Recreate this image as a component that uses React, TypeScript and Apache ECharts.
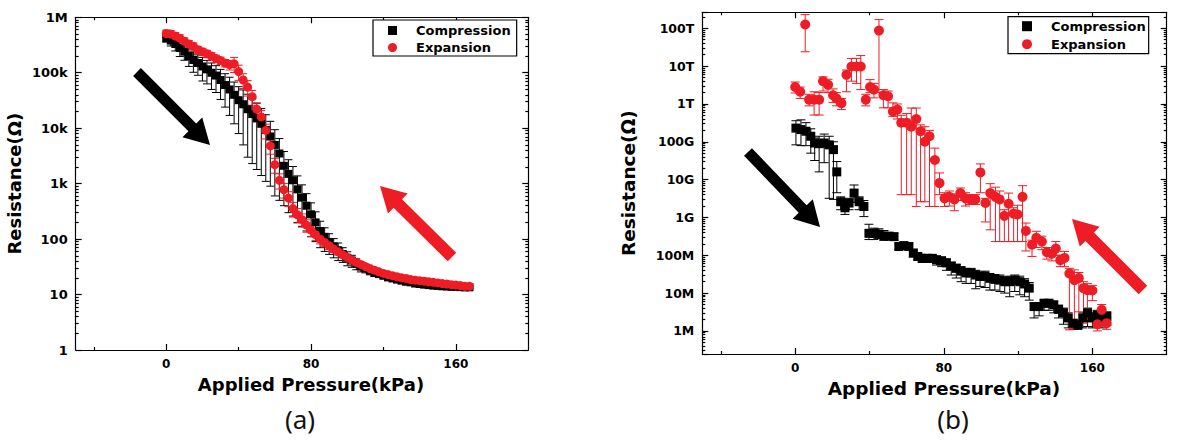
import React, { useEffect, useRef } from 'react';
import * as echarts from 'echarts';

// ---------- shared ----------
const X_TITLE = 'Applied Pressure(kPa)';
const Y_TITLE = 'Resistance(Ω)';
const X_MIN = -50;
const X_MAX = 200;
const X_MAJOR = [0, 80, 160];
const X_MINOR = [-40, 40, 120];
const RED = '#ee1c24';
const FONT = 'DejaVu Sans';

// ---------- panel (a) ----------
const pressureA = [
  0, 2.5, 5, 7.5, 10, 12.5, 15, 17.5, 20, 22.5,
  25, 27.5, 30, 32.5, 35, 37.5, 40, 42.5, 45, 47.5,
  50, 52.5, 55, 57.5, 60, 62.5, 65, 67.5, 70, 72.5,
  75, 77.5, 80, 82.5, 85, 87.5, 90, 92.5, 95, 97.5,
  100, 102.5, 105, 107.5, 110, 112.5, 115, 117.5, 120, 122.5,
  125, 127.5, 130, 132.5, 135, 137.5, 140, 142.5, 145, 147.5,
  150, 152.5, 155, 157.5, 160, 162.5, 165, 167.5,
];
const compressionA = [
  4.2e5, 3.8e5, 3.3e5, 2.8e5, 2.4e5, 2.0e5, 1.7e5, 1.5e5, 1.3e5, 1.15e5,
  1.0e5, 8.9e4, 7.4e4, 6.0e4, 5.0e4, 4.0e4, 3.2e4, 2.7e4, 2.2e4, 1.8e4,
  1.5e4, 1.2e4, 9.3e3, 7.1e3, 5.0e3, 3.5e3, 2.1e3, 1.5e3, 1150, 790,
  560, 400, 280, 200, 140, 110, 89, 74, 63, 54,
  46, 41, 36, 32, 30, 27, 25, 23.4, 21.9, 20.4,
  19.5, 18.6, 17.8, 17.0, 16.6, 15.8, 15.5, 15.1, 14.8, 14.5,
  14.3, 14.1, 14.0, 13.8, 13.8, 13.6, 13.5, 13.5,
];
const compressionErrA = [
  6.3e4, 7.6e4, 8.3e4, 8.4e4, 7.2e4, 7.0e4, 6.8e4, 6.0e4, 5.9e4, 5.2e4,
  5.0e4, 4.5e4, 4.1e4, 3.6e4, 3.3e4, 2.8e4, 2.4e4, 2.2e4, 1.9e4, 1.57e4,
  1.32e4, 1.06e4, 8.2e3, 6.2e3, 4.4e3, 3.0e3, 1.7e3, 1.2e3, 890, 590,
  390, 260, 170, 110, 70, 50, 36, 28, 22, 16,
  13, 10, 8, 6.4, 5.4, 4.3, 3.8, 3.0, 2.6, 2.0,
  1.9, 1.7, 1.5, 1.4, 1.2, 1.1, 1.0, 0.9, 0.8, 0.8,
  0.7, 0.7, 0.6, 0.6, 0.6, 0.5, 0.5, 0.5,
];
const expansionA = [
  5.1e5, 5.0e5, 4.6e5, 4.2e5, 3.7e5, 3.3e5, 3.0e5, 2.6e5, 2.4e5, 2.2e5,
  2.0e5, 1.8e5, 1.66e5, 1.5e5, 1.4e5, 1.45e5, 1.05e5, 7.4e4, 5.5e4, 3.7e4,
  2.2e4, 1.6e4, 9.1e3, 4.8e3, 2.2e3, 1150, 780, 550, 355, 275,
  224, 178, 145, 120, 100, 87, 76, 66, 59, 52,
  47, 42, 38, 35, 32, 29.5, 27.5, 25.7, 24, 22.9,
  21.9, 20.9, 20, 19.5, 18.6, 18.2, 17.8, 17.4, 17.0, 16.6,
  16.2, 15.8, 15.5, 15.1, 14.8, 14.5, 14.1, 14.1,
];
const expansionErrA = [
  7.7e4, 7.5e4, 6.9e4, 6.3e4, 5.6e4, 5.0e4, 4.5e4, 3.9e4, 3.6e4, 3.3e4,
  3.0e4, 2.7e4, 2.5e4, 2.3e4, 2.8e4, 4.4e4, 3.2e4, 2.2e4, 1.7e4, 1.1e4,
  6.6e3, 4.8e3, 2.7e3, 1.4e3, 660, 350, 230, 165, 105, 80,
  60, 45, 33, 25, 18, 14, 11, 9, 7.5, 6,
  5, 4.2, 3.5, 3, 2.6, 2.2, 1.9, 1.7, 1.5, 1.3,
  1.2, 1.1, 1.0, 0.9, 0.9, 0.8, 0.8, 0.7, 0.7, 0.6,
  0.6, 0.6, 0.5, 0.5, 0.5, 0.5, 0.4, 0.4,
];
const yTicksA = [1, 10, 100, 1e3, 1e4, 1e5, 1e6];
const yTickLabelsA = ['1', '10', '100', '1k', '10k', '100k', '1M'];

// ---------- panel (b) ----------
const compressionXB = [
  0.4, 3.1, 5.8, 8.4, 10.5, 12.9, 15.6, 18.3, 20.6, 22.4,
  24.5, 26.8, 29, 31.7, 34.4, 37, 39.7, 42.4, 45.1, 47.8,
  50.5, 53.2, 55.8, 58.5, 61.2, 63.6, 66, 68.4, 71.1, 73.8,
  76.1, 78.8, 81.4, 84, 86.7, 89.3, 92, 94.7, 97.2, 99.5,
  102.2, 104.8, 107.5, 110.2, 112.8, 115.5, 118.2, 120.9, 123.5, 126,
  128.6, 131.3, 134, 136.6, 139.2, 141.8, 144.4, 147, 149.6, 152.2,
  154.8, 157.4, 160, 162.6, 165.2, 167.8,
];
const compressionB = [
  2.3e11, 2.1e11, 1.9e11, 1.4e11, 9.3e10, 8.9e10, 9.3e10, 8.3e10, 6.2e10, 1.6e10,
  2.6e9, 1.8e9, 2.4e9, 4.4e9, 2.6e9, 1.95e9, 3.8e8, 3.8e8, 3.6e8, 3.2e8,
  3.2e8, 3.1e8, 1.7e8, 1.8e8, 1.7e8, 1.15e8, 9.3e7, 8.3e7, 8.3e7, 8.3e7,
  7.6e7, 7.1e7, 6.3e7, 5.2e7, 4.5e7, 3.8e7, 3.4e7, 3.4e7, 3.0e7, 2.75e7,
  2.8e7, 2.45e7, 2.3e7, 2.2e7, 2.0e7, 2.0e7, 2.2e7, 2.0e7, 1.74e7, 1.35e7,
  4.4e6, 4.4e6, 5.4e6, 5.4e6, 4.9e6, 3.7e6, 3.0e6, 2.2e6, 1.6e6, 1.45e6,
  2.2e6, 3.0e6, 2.2e6, 2.6e6, 2.2e6, 2.4e6,
];
const compressionLowB = [
  8.3e10, 7.9e10, 7.9e10, 5.0e10, 3.2e10, 1.6e10, 2.8e10, 3.2e9, 3.0e9, 4.5e9,
  1.6e9, 1.2e9, 1.6e9, 2.5e9, 1.6e9, 1.05e9, 2.6e8, 2.6e8, 2.8e8, 2.5e8,
  2.6e8, 2.5e8, 1.4e8, 1.5e8, 1.4e8, 9.0e7, 7.5e7, 6.5e7, 6.5e7, 6.5e7,
  5.5e7, 5.0e7, 4.0e7, 3.0e7, 2.5e7, 2.0e7, 1.8e7, 1.8e7, 1.3e7, 1.5e7,
  1.4e7, 1.2e7, 1.2e7, 1.1e7, 1.0e7, 8.0e6, 1.1e7, 9.0e6, 8.0e6, 6.5e6,
  2.2e6, 2.5e6, 3.5e6, 3.5e6, 3.0e6, 2.2e6, 1.5e6, 1.2e6, 1.1e6, 1.1e6,
  1.2e6, 1.3e6, 1.2e6, 1.4e6, 1.2e6, 1.4e6,
];
const compressionHighB = [
  3.6e11, 3.8e11, 3.2e11, 2.2e11, 1.26e11, 1.4e11, 1.6e11, 1.4e11, 1.0e11, 3.0e10,
  3.5e9, 2.5e9, 3.2e9, 7.2e9, 3.5e9, 2.8e9, 6.6e8, 5.2e8, 5.0e8, 4.5e8,
  4.0e8, 3.8e8, 2.0e8, 2.2e8, 2.0e8, 1.4e8, 1.1e8, 1.0e8, 1.0e8, 1.0e8,
  9.5e7, 9.0e7, 8.0e7, 6.5e7, 5.8e7, 5.0e7, 4.5e7, 4.5e7, 4.0e7, 3.6e7,
  3.8e7, 3.3e7, 3.1e7, 3.0e7, 2.7e7, 2.8e7, 3.0e7, 2.8e7, 2.4e7, 1.9e7,
  5.5e6, 5.6e6, 6.5e6, 6.5e6, 6.0e6, 4.8e6, 4.0e6, 3.0e6, 2.0e6, 1.8e6,
  3.0e6, 4.0e6, 3.0e6, 3.5e6, 3.0e6, 3.2e6,
];
const expansionXB = [
  0, 2.7, 5.4, 7.5, 10.2, 12.9, 15, 17.7, 20.4, 22.2,
  24.9, 27.6, 30.3, 33, 35.3, 38, 40.3, 42.4, 45.1, 47.5,
  50, 52.6, 55, 57.1, 60, 62.5, 65.2, 67.5, 69.8, 72.3,
  75.2, 77.7, 80.4, 83, 85.7, 88.9, 91.7, 94.3, 97, 99.7,
  102.4, 105, 107.8, 110.1, 112.6, 114.9, 117.6, 119.7, 122.4, 124.2,
  127.5, 129.8, 132.8, 135.5, 138.2, 140.3, 142.7, 145, 147.6, 150.3,
  152.7, 155.2, 157.3, 160, 162.7, 165, 167.7,
];
const expansionB = [
  2.8e12, 2.1e12, 1.26e14, 1.3e12, 1.3e12, 1.3e12, 4.0e12, 3.2e12, 1.7e12, 1.4e12,
  1.05e12, 5.9e12, 9.8e12, 9.8e12, 9.8e12, 1.3e12, 2.8e12, 2.4e12, 8.7e13, 1.7e12,
  1.6e12, 6.3e11, 7.1e11, 3.2e11, 3.2e11, 2.5e11, 4.0e11, 1.9e11, 1.0e11, 1.4e11,
  3.3e10, 8.1e9, 3.2e9, 3.5e9, 3.0e9, 4.4e9, 3.2e9, 3.0e9, 3.0e9, 1.55e10,
  2.4e9, 4.4e9, 3.5e9, 3.0e9, 1.1e9, 2.3e9, 1.26e9, 1.2e9, 3.5e9, 4.4e8,
  1.9e8, 2.9e8, 2.3e8, 1.2e8, 1.1e8, 1.5e8, 7.4e7, 8.5e7, 3.3e7, 2.2e7,
  2.5e7, 1.35e7, 1.2e7, 1.17e7, 1.5e6, 3.6e6, 1.6e6,
];
const expansionLowB = [
  1.95e12, 1.4e12, 2.4e13, 8.9e11, 5.1e11, 5.1e11, 2.2e12, 2.0e12, 1.1e12, 8.9e11,
  7.1e11, 2.1e12, 4.0e12, 3.5e12, 2.4e12, 8.9e11, 2.0e12, 1.45e12, 2.0e12, 7.9e11,
  7.9e11, 4.7e11, 4.0e11, 4.0e9, 4.0e9, 4.0e9, 1.95e9, 2.6e9, 2.6e9, 1.95e9,
  1.95e9, 4.0e9, 1.95e9, 2.0e9, 1.5e9, 2.8e9, 2.0e9, 2.2e9, 2.2e9, 4.5e9,
  7.6e8, 4.7e8, 2.3e8, 2.3e8, 2.3e8, 2.3e8, 2.3e8, 2.3e8, 2.3e8, 1.3e8,
  9.3e7, 1.6e8, 1.4e8, 7.9e7, 7.1e7, 1.0e8, 5.0e7, 5.0e7, 1.07e6, 1.17e6,
  3.2e6, 1.6e6, 2.0e6, 6.3e6, 1.0e6, 2.5e6, 1.1e6,
];
const expansionHighB = [
  3.8e12, 2.8e12, 2.3e14, 1.8e12, 2.1e12, 2.0e12, 5.2e12, 4.5e12, 2.5e12, 2.0e12,
  1.4e12, 7.9e12, 1.6e13, 1.6e13, 1.9e13, 1.8e12, 4.4e12, 3.5e12, 1.7e14, 2.4e12,
  2.2e12, 1.07e12, 1.0e12, 5.0e11, 5.6e11, 7.8e11, 7.8e11, 2.8e11, 2.5e11, 2.0e11,
  6.8e10, 1.5e10, 4.5e9, 5.0e9, 4.2e9, 6.0e9, 4.5e9, 4.0e9, 4.0e9, 2.6e10,
  3.2e9, 7.8e9, 6.3e9, 5.0e9, 1.6e9, 4.4e9, 1.8e9, 2.1e9, 6.9e9, 7.1e8,
  2.5e8, 4.3e8, 3.2e8, 1.6e8, 1.6e8, 2.3e8, 1.0e8, 1.26e8, 4.5e7, 4.1e7,
  3.5e7, 2.0e7, 1.8e7, 1.6e7, 2.0e6, 5.0e6, 2.2e6,
];
const yTicksB = [1e6, 1e7, 1e8, 1e9, 1e10, 1e11, 1e12, 1e13, 1e14];
const yTickLabelsB = ['1M', '10M', '100M', '1G', '10G', '100G', '1T', '10T', '100T'];

// ---------- helpers ----------
const tickFormatter = (ticks: number[], labels: string[]) => (v: number) => {
  const i = ticks.findIndex((t) => Math.abs(Math.log10(t) - Math.log10(v)) < 1e-3);
  return i >= 0 ? labels[i] : '';
};

const errRender = (color: string, cap: number) => (params: any, api: any) => {
  const x = api.value(0);
  const lo = api.coord([x, api.value(1)]);
  const hi = api.coord([x, api.value(2)]);
  const st = { stroke: color, lineWidth: 1 };
  return {
    type: 'group',
    children: [
      { type: 'line', shape: { x1: lo[0], y1: lo[1], x2: hi[0], y2: hi[1] }, style: st },
      { type: 'line', shape: { x1: lo[0] - cap, y1: lo[1], x2: lo[0] + cap, y2: lo[1] }, style: st },
      { type: 'line', shape: { x1: hi[0] - cap, y1: hi[1], x2: hi[0] + cap, y2: hi[1] }, style: st },
    ],
  };
};

const arrow = (tail: number[], tip: number[], sw: number, hw: number, hl: number, color: string) => {
  const dx = tip[0] - tail[0];
  const dy = tip[1] - tail[1];
  const len = Math.hypot(dx, dy);
  const ux = dx / len, uy = dy / len;
  const nx = -uy, ny = ux;
  const bx = tip[0] - ux * hl, by = tip[1] - uy * hl;
  const pts = [
    [tail[0] + nx * sw / 2, tail[1] + ny * sw / 2],
    [bx + nx * sw / 2, by + ny * sw / 2],
    [bx + nx * hw / 2, by + ny * hw / 2],
    [tip[0], tip[1]],
    [bx - nx * hw / 2, by - ny * hw / 2],
    [bx - nx * sw / 2, by - ny * sw / 2],
    [tail[0] - nx * sw / 2, tail[1] - ny * sw / 2],
  ];
  return { type: 'polygon', shape: { points: pts }, style: { fill: color } };
};

const lineStyle = { color: '#000', width: 1.2 };

function buildPanel(gi: number, p: any) {
  const common = { gridIndex: gi, type: 'value', min: X_MIN, max: X_MAX, splitLine: { show: false } };
  const xAxes = [
    {
      ...common, position: 'bottom',
      axisLine: { show: true, onZero: false, lineStyle },
      axisTick: { show: true, inside: true, length: 6, customValues: X_MAJOR, lineStyle },
      axisLabel: {
        customValues: X_MAJOR, margin: p.xLabelMargin, fontFamily: FONT, fontWeight: 'bold',
        fontSize: p.xFont, color: '#000', formatter: (v: number) => String(v),
      },
      name: X_TITLE, nameLocation: 'middle', nameGap: p.xNameGap,
      nameTextStyle: {
        fontFamily: FONT, fontWeight: 'bold', fontSize: p.nameFont, color: '#000',
        padding: [0, 0, 0, p.xNameShift],
      },
    },
    {
      ...common, position: 'bottom',
      axisLine: { show: false, onZero: false }, axisLabel: { show: false },
      axisTick: { show: true, inside: true, length: 3, customValues: X_MINOR, lineStyle },
    },
    {
      ...common, position: 'top',
      axisLine: { show: true, onZero: false, lineStyle }, axisLabel: { show: false },
      axisTick: { show: true, inside: true, length: 6, customValues: X_MAJOR, lineStyle },
    },
    {
      ...common, position: 'top',
      axisLine: { show: false, onZero: false }, axisLabel: { show: false },
      axisTick: { show: true, inside: true, length: 3, customValues: X_MINOR, lineStyle },
    },
  ];
  const lmin = Math.log10(p.yMin);
  const lmax = Math.log10(p.yMax);
  const minors: number[] = [];
  for (let e = Math.floor(lmin); e < Math.ceil(lmax); e++) {
    for (let k = 2; k <= 9; k++) {
      const v = e + Math.log10(k);
      if (v > lmin && v < lmax) minors.push(v);
    }
  }
  const yAxes = [
    {
      gridIndex: gi, type: 'log', logBase: 10, min: p.yMin, max: p.yMax, position: 'left',
      axisLine: { show: true, onZero: false, lineStyle },
      axisTick: { show: true, inside: true, length: 6, lineStyle },
      axisLabel: {
        margin: p.yLabelMargin, fontFamily: FONT, fontWeight: 'bold', fontSize: p.yFont, color: '#000',
        formatter: tickFormatter(p.yTicks, p.yLabels), showMinLabel: true, showMaxLabel: true,
      },
      splitLine: { show: false },
      name: Y_TITLE, nameLocation: 'middle', nameGap: p.yNameGap, nameRotate: 90,
      nameTextStyle: { fontFamily: FONT, fontWeight: 'bold', fontSize: p.nameFont, color: '#000' },
    },
    {
      gridIndex: gi, type: 'log', logBase: 10, min: p.yMin, max: p.yMax, position: 'right',
      axisLine: { show: true, onZero: false, lineStyle },
      axisTick: { show: true, inside: true, length: 6, lineStyle },
      axisLabel: { show: false }, splitLine: { show: false },
    },
    {
      gridIndex: gi, type: 'value', min: lmin, max: lmax, position: 'left',
      axisLine: { show: false, onZero: false }, axisLabel: { show: false }, splitLine: { show: false },
      axisTick: { show: true, inside: true, length: 3, customValues: minors, lineStyle },
    },
    {
      gridIndex: gi, type: 'value', min: lmin, max: lmax, position: 'right',
      axisLine: { show: false, onZero: false }, axisLabel: { show: false }, splitLine: { show: false },
      axisTick: { show: true, inside: true, length: 3, customValues: minors, lineStyle },
    },
  ];
  const xi = gi * 4;
  const yi = gi * 4;
  const series = [
    {
      type: 'custom', name: 'Compression error ' + gi, xAxisIndex: xi, yAxisIndex: yi,
      renderItem: errRender('#000', p.cap), encode: { x: 0, y: [1, 2] },
      data: p.compX.map((x: number, i: number) => [x, p.compLo[i], p.compHi[i]]), silent: true,
    },
    {
      type: 'scatter', name: 'Compression', xAxisIndex: xi, yAxisIndex: yi,
      symbol: 'rect', symbolSize: p.sym, itemStyle: { color: '#000', opacity: 1 },
      data: p.compX.map((x: number, i: number) => [x, p.comp[i]]),
    },
    {
      type: 'custom', name: 'Expansion error ' + gi, xAxisIndex: xi, yAxisIndex: yi,
      renderItem: errRender(RED, p.cap), encode: { x: 0, y: [1, 2] },
      data: p.expX.map((x: number, i: number) => [x, p.expLo[i], p.expHi[i]]), silent: true,
    },
    {
      type: 'scatter', name: 'Expansion', xAxisIndex: xi, yAxisIndex: yi,
      symbol: 'circle', symbolSize: p.sym + 1, itemStyle: { color: RED, opacity: 1 },
      data: p.expX.map((x: number, i: number) => [x, p.exp[i]]),
    },
  ];
  return { xAxes, yAxes, series };
}

export default function App() {
  const ref = useRef<HTMLDivElement>(null);
  useEffect(() => {
    if (!ref.current) return;
    const chart = echarts.init(ref.current, null, { renderer: 'svg' });

    const panelA = buildPanel(0, {
      yMin: 1, yMax: 1e6, yTicks: yTicksA, yLabels: yTickLabelsA,
      yFont: 13, xFont: 12, nameFont: 18, xLabelMargin: 8, yLabelMargin: 8,
      xNameGap: 25, xNameShift: 18, yNameGap: 52, cap: 4, sym: 8,
      compX: pressureA, comp: compressionA,
      compLo: compressionA.map((v, i) => v - compressionErrA[i]),
      compHi: compressionA.map((v, i) => v + compressionErrA[i]),
      expX: pressureA, exp: expansionA,
      expLo: expansionA.map((v, i) => v - expansionErrA[i]),
      expHi: expansionA.map((v, i) => v + expansionErrA[i]),
    });
    const panelB = buildPanel(1, {
      yMin: 2.45e5, yMax: 2.65e14, yTicks: yTicksB, yLabels: yTickLabelsB,
      yFont: 12.5, xFont: 12, nameFont: 18.5, xLabelMargin: 8, yLabelMargin: 8,
      xNameGap: 24, xNameShift: 19, yNameGap: 64, cap: 4.5, sym: 9,
      compX: compressionXB, comp: compressionB, compLo: compressionLowB, compHi: compressionHighB,
      expX: expansionXB, exp: expansionB, expLo: expansionLowB, expHi: expansionHighB,
    });

    const legendBase = {
      orient: 'vertical', data: ['Compression', 'Expansion'],
      borderColor: '#000', borderWidth: 1.2, backgroundColor: '#fff',
      textStyle: { fontFamily: FONT, fontWeight: 'bold', fontSize: 13, color: '#000' },
      selectedMode: false,
    };

    chart.setOption({
      animation: false,
      backgroundColor: '#fff',
      grid: [
        { left: 75.7, top: 17.3, width: 452.6, height: 332.7, containLabel: false },
        { left: 702.3, top: 12.3, width: 464.4, height: 341.7, containLabel: false },
      ],
      xAxis: [...panelA.xAxes, ...panelB.xAxes],
      yAxis: [...panelA.yAxes, ...panelB.yAxes],
      series: [...panelA.series, ...panelB.series],
      legend: [
        {
          ...legendBase, left: 373, top: 20, itemWidth: 9, itemHeight: 9, itemGap: 4,
          padding: [4, 6, 2, 15],
          textStyle: { ...legendBase.textStyle, padding: [0, 0, 0, 14] },
        },
        {
          ...legendBase, left: 1008, top: 16.7, itemWidth: 10, itemHeight: 10, itemGap: 5,
          padding: [3, 3, 3, 14],
          textStyle: { ...legendBase.textStyle, fontSize: 13, padding: [0, 0, 0, 14] },
        },
      ],
      graphic: [
        arrow([137, 72], [210, 145], 11, 28, 25, '#000'),
        arrow([452, 257], [380, 186], 12, 28, 25, RED),
        arrow([748, 152], [820, 227], 11, 28, 25, '#000'),
        arrow([1143, 290], [1072, 219], 12, 28, 25, RED),
        {
          type: 'text', x: 300, y: 419,
          style: { text: '(a)', align: 'center', verticalAlign: 'middle', fontFamily: 'Noto Sans', fontSize: 26, fill: '#111' },
        },
        {
          type: 'text', x: 953, y: 419,
          style: { text: '(b)', align: 'center', verticalAlign: 'middle', fontFamily: 'Noto Sans', fontSize: 26, fill: '#111' },
        },
      ],
    });
    return () => chart.dispose();
  }, []);
  return <div ref={ref} style={{ position: 'fixed', left: 0, top: 0, width: 1177, height: 443 }} />;
}
